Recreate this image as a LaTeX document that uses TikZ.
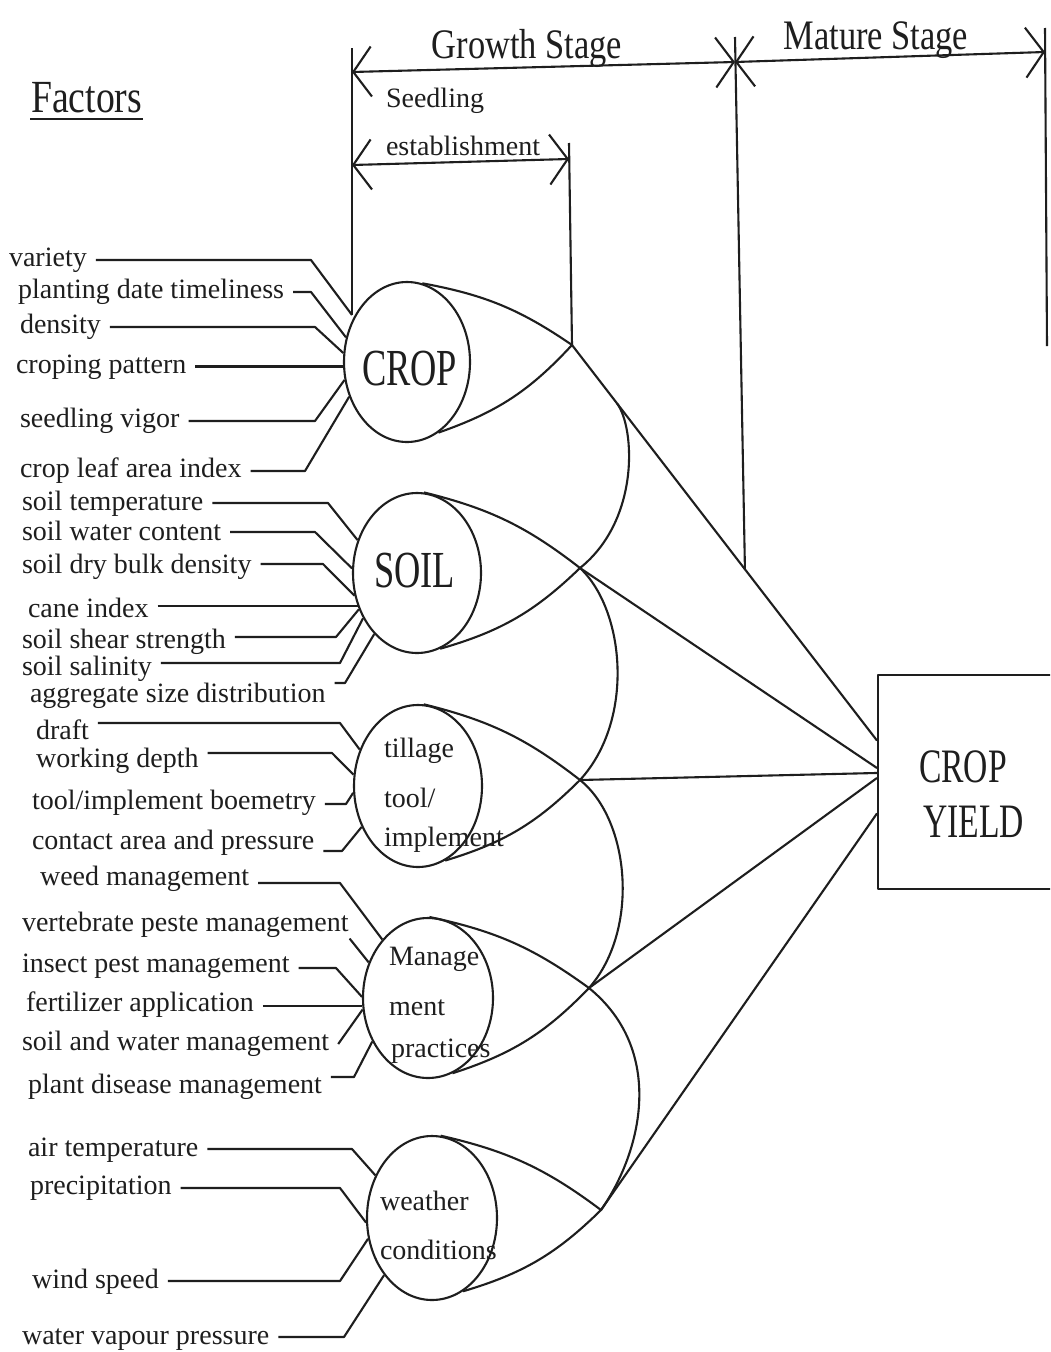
\documentclass[tikz,border=0pt]{standalone}
\usepackage{fontspec}
\setmainfont{Liberation Serif}
\newfontfamily\labfont{Liberation Serif}
\newfontfamily\bigfont[FakeStretch=0.7]{Liberation Serif}
\newfontfamily\midfont[FakeStretch=0.82]{Liberation Serif}
\usetikzlibrary{shapes.geometric,arrows.meta,calc}
\definecolor{ink}{HTML}{1E1E1E}
\newcommand\lsz{\fontsize{28}{32}\selectfont}
\begin{document}
\begin{tikzpicture}[x=1pt,y=-1pt,line width=2.1pt,line join=round,color=ink,
  lab/.style={font=\labfont\lsz,anchor=west,inner xsep=8pt,inner ysep=0pt,text height=19pt,text depth=6pt},
  oval/.style={ellipse,draw,inner sep=0pt},
  intext/.style={font=\labfont\lsz,anchor=base west,inner sep=0pt},
  bigtext/.style={font=\bigfont\fontsize{52}{56}\selectfont,anchor=base west,inner sep=0pt},
  headtext/.style={font=\midfont\fontsize{42}{46}\selectfont,anchor=base,inner sep=0pt},
  barb/.style={>={Straight Barb[length=18pt,width=50pt]}}]
\fill[white] (0,0) rectangle (1050,1352);
\path[use as bounding box] (0,0) rectangle (1050,1352);
\clip (0,0) rectangle (1050,1352);

% ---- factor ellipses
\node[oval,minimum width=126pt,minimum height=160pt] (crop) at (407,362) {};
\node[oval,minimum width=128pt,minimum height=160pt] (soil) at (417,573) {};
\node[oval,minimum width=128pt,minimum height=162pt] (till) at (418,786) {};
\node[oval,minimum width=130pt,minimum height=160pt] (mgmt) at (428,998) {};
\node[oval,minimum width=130pt,minimum height=164pt] (wthr) at (432,1218) {};

\node[bigtext] (tcrop) at (361,385) {CROP};
\node[bigtext] (tsoil) at (373,587) {SOIL};
\node[intext] (ttill1) at (383,757) {tillage};
\node[intext] (ttill2) at (383,807) {tool/};
\node[intext] (ttill3) at (383,846) {implement};
\node[intext] (tmg1) at (388,965) {Manage};
\node[intext] (tmg2) at (388,1015) {ment};
\node[intext] (tmg3) at (390,1057) {practices};
\node[intext] (tw1) at (379,1210) {weather};
\node[intext] (tw2) at (379,1259) {conditions};

% ---- crop yield box
\node[draw,rectangle,anchor=north west,minimum width=200pt,minimum height=214pt,inner sep=0pt] (yield) at (877,674) {};
\node[bigtext,font=\bigfont\fontsize{48}{52}\selectfont] (ycrop) at (918,782) {CROP};
\node[bigtext,font=\bigfont\fontsize{48}{52}\selectfont] (yyield) at (922,837) {YIELD};

% ---- convergence points
\coordinate (pC) at (572,345);
\coordinate (pS) at (580,568);
\coordinate (pT) at (580,780);
\coordinate (pM) at (589,988);
\coordinate (pW) at (601,1210);
\coordinate (yC) at ($(yield.north west)!0.308!(yield.south west)$);
\coordinate (yS) at ($(yield.north west)!0.435!(yield.south west)$);
\coordinate (yT) at ($(yield.north west)!0.458!(yield.south west)$);
\coordinate (yM) at ($(yield.north west)!0.481!(yield.south west)$);
\coordinate (yW) at ($(yield.north west)!0.645!(yield.south west)$);

% ---- lenses
\draw (crop.79) to[bend left=12] (pC) to[bend left=14] (crop.294);
\draw (soil.85) to[bend left=12] (pS) to[bend left=14] (soil.287);
\draw (till.86) to[bend left=12] (pT) to[bend left=14] (till.290);
\draw (mgmt.89) to[bend left=12] (pM) to[bend left=14] (mgmt.288);
\draw (wthr.84) to[bend left=12] (pW) to[bend left=14] (wthr.293);

% ---- lines to yield
\draw (pC) -- (yC);
\draw (pS) -- (yS);
\draw (pT) -- (yT);
\draw (pM) -- (yM);
\draw (pW) -- (yW);

% ---- big arcs
\coordinate (aS) at ($(pC)!0.148!(yC)$);
\draw (aS) .. controls (635,428) and (640,520) .. (pS);
\draw (pS) .. controls (625,610) and (635,720) .. (pT);
\draw (pT) .. controls (630,820) and (640,930) .. (pM);
\draw (pM) .. controls (665,1050) and (643,1150) .. (pW);

% ---- headings and stage dimension lines
\node[font=\midfont\fontsize{46}{50}\selectfont,anchor=base west,inner sep=0pt] (factors) at (30,112) {Factors};
\draw ([yshift=-7pt]factors.base west) -- ([yshift=-7pt]factors.base east);
\node[headtext] (growth) at (527,58) {Growth Stage};
\node[headtext] (mature) at (876,49) {Mature Stage};
\node[intext] (seed1) at (385,107) {Seedling};
\node[intext] (seed2) at (385,155) {establishment};

\coordinate (tl) at (352,72);
\coordinate (tm) at (735,62);
\coordinate (tr) at (1045,52);
\draw[barb,<->] (tl) -- (tm);
\draw[barb,<->] (tm) -- (tr);
\coordinate (sl) at (352,165);
\coordinate (sr) at (569,159);
\draw[barb,<->] (sl) -- (sr);

\coordinate (v1) at (352,48);
\coordinate (j1) at (v1 |- crop.138);
\draw (v1) -- (j1);
\coordinate (v2) at (569,143);
\draw (v2) -- (pC);
\coordinate (v3) at (735,37);
\coordinate (v3e) at ($(pC)!0.567!(yC)$);
\draw (v3) -- (v3e);
\coordinate (v4) at (1045,28);
\coordinate (v4e) at (1047,346);
\draw (v4) -- (v4e);

% ---- factor labels: crop
\node[lab] (l1) at (0,260) {variety};
\coordinate (b1) at (311,260);
\draw (l1.east |- b1) -- (b1) -- (j1);
\node[lab] (l2) at (9,292) {planting date timeliness};
\coordinate (b2) at (311,292);
\draw (l2.east |- b2) -- (b2) -- (crop.158);
\node[lab] (l3) at (11,327) {density};
\coordinate (b3) at (315,327);
\draw (l3.east |- b3) -- (b3) -- (crop.172);
\node[lab] (l4) at (7,367) {croping pattern};
\draw (l4.east |- crop.184) -- (crop.184);
\node[lab] (l5) at (11,421) {seedling vigor};
\coordinate (b5) at (315,421);
\draw (l5.east |- b5) -- (b5) -- (crop.196);
\node[lab] (l6) at (11,471) {crop leaf area index};
\coordinate (b6) at (305,471);
\draw (l6.east |- b6) -- (b6) -- (crop.211);

% ---- soil
\node[lab] (l7) at (13,504) {soil temperature};
\coordinate (b7) at (328,503);
\draw (l7.east |- b7) -- (b7) -- (soil.151);
\node[lab] (l8) at (13,534) {soil water content};
\coordinate (b8) at (315,532);
\draw (l8.east |- b8) -- (b8) -- (soil.176);
\node[lab] (l9) at (13,567) {soil dry bulk density};
\coordinate (b9) at (323,564);
\draw (l9.east |- b9) -- (b9) -- (soil.200);
\node[lab] (l10) at (19,611) {cane index};
\draw (l10.east |- soil.209) -- (soil.209);
\node[lab] (l11) at (13,642) {soil shear strength};
\coordinate (b11) at (336,637);
\draw (l11.east |- b11) -- (b11) -- (soil.212);
\node[lab] (l12) at (13,669) {soil salinity};
\coordinate (b12) at (340,663);
\draw (l12.east |- b12) -- (b12) -- (soil.220);
\node[lab] (l13) at (21,696) {aggregate size distribution};
\coordinate (b13) at (345,683);
\draw (l13.east |- b13) -- (b13) -- (soil.235);

% ---- tillage
\node[lab] (l14) at (27,733) {draft};
\coordinate (b14) at (340,723);
\draw (l14.east |- b14) -- (b14) -- (till.148);
\node[lab] (l15) at (27,761) {working depth};
\coordinate (b15) at (332,753);
\draw (l15.east |- b15) -- (b15) -- (till.170);
\node[lab] (l16) at (23,803) {tool/implement boemetry};
\coordinate (b16) at (346,804);
\draw (l16.east |- b16) -- (b16) -- (till.186);
\node[lab] (l17) at (23,843) {contact area and pressure};
\coordinate (b17) at (342,851);
\draw (l17.east |- b17) -- (b17) -- (till.216);

% ---- management
\node[lab] (l18) at (31,879) {weed management};
\coordinate (b18) at (340,883);
\draw (l18.east |- b18) -- (b18) -- (mgmt.128);
\node[lab,inner xsep=0pt] (l19) at (21,925) {vertebrate peste management};
\draw (l19.south east) -- (mgmt.149);
\node[lab] (l20) at (13,966) {insect pest management};
\coordinate (b20) at (336,968);
\draw (l20.east |- b20) -- (b20) -- (mgmt.179);
\node[lab] (l21) at (17,1005) {fertilizer application};
\draw (l21.east |- mgmt.187) -- (mgmt.187);
\node[lab] (l22) at (13,1044) {soil and water management};
\draw (l22.east) -- (mgmt.190);
\node[lab] (l23) at (19,1087) {plant disease management};
\coordinate (b23) at (354,1077);
\draw (l23.east |- b23) -- (b23) -- (mgmt.218);

% ---- weather
\node[lab] (l24) at (19,1150) {air temperature};
\coordinate (b24) at (352,1149);
\draw (l24.east |- b24) -- (b24) -- (wthr.143);
\node[lab] (l25) at (21,1188) {precipitation};
\coordinate (b25) at (340,1188);
\draw (l25.east |- b25) -- (b25) -- (wthr.184);
\node[lab] (l26) at (23,1282) {wind speed};
\coordinate (b26) at (340,1281);
\draw (l26.east |- b26) -- (b26) -- (wthr.198);
\node[lab] (l27) at (13,1338) {water vapour pressure};
\coordinate (b27) at (344,1337);
\draw (l27.east |- b27) -- (b27) -- (wthr.230);
\end{tikzpicture}
\end{document}
